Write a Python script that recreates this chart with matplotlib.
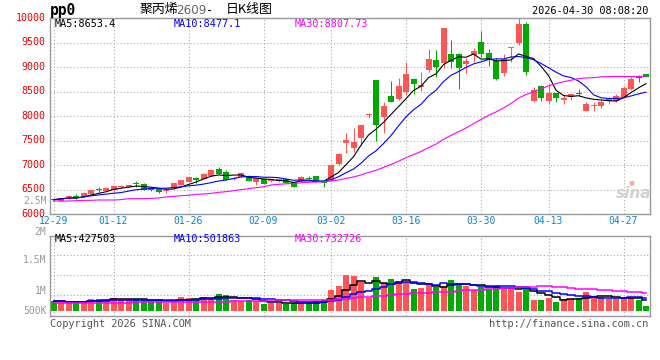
import matplotlib
matplotlib.use("Agg")
import matplotlib.pyplot as plt
from matplotlib.transforms import ScaledTranslation
from matplotlib.ticker import FixedLocator
import numpy as np
import pandas as pd

# ---------------- data ----------------
dates = ['12-29', '12-30', '12-31', '01-05', '01-06', '01-07', '01-08', '01-09',
         '01-12', '01-13', '01-14', '01-15', '01-16', '01-19', '01-20', '01-21',
         '01-22', '01-23', '01-26', '01-27', '01-28', '01-29', '01-30', '02-02',
         '02-03', '02-04', '02-05', '02-06', '02-09', '02-10', '02-11', '02-12',
         '02-13', '02-24', '02-25', '02-26', '02-27', '03-02', '03-03', '03-04',
         '03-05', '03-06', '03-09', '03-10', '03-11', '03-12', '03-13', '03-16',
         '03-17', '03-18', '03-19', '03-20', '03-23', '03-24', '03-25', '03-26',
         '03-27', '03-30', '03-31', '04-01', '04-02', '04-03', '04-07', '04-08',
         '04-09', '04-10', '04-13', '04-14', '04-15', '04-16', '04-17', '04-20',
         '04-21', '04-22', '04-23', '04-24', '04-27', '04-28', '04-29', '04-30']

opens = [6310, 6276, 6351, 6378, 6358, 6412, 6521, 6480, 6494, 6555,
         6555, 6630, 6610, 6535, 6514, 6480, 6535, 6603, 6657, 6732,
         6718, 6786, 6922, 6868, 6725, 6766, 6786, 6664, 6712, 6677,
         6670, 6725, 6657, 6684, 6739, 6779, 6664, 6690, 7025, 7460,
         7358, 7562, 8032, 8738, 7990, 8412, 8351, 8500, 8759, 8602,
         8950, 9147, 9085, 9266, 9266, 9059, 9249, 9508, 9295, 9120,
         8880, 9399, 9500, 9885, 8314, 8616, 8314, 8467, 8337, 8392,
         8470, 8110, 8215, 8212, 8314, 8320, 8392, 8555, 8800, 8854]
highs = [6330, 6340, 6385, 6405, 6450, 6500, 6555, 6555, 6575, 6590,
         6600, 6670, 6630, 6545, 6520, 6510, 6640, 6700, 6765, 6760,
         6850, 6920, 6970, 6900, 6765, 6855, 6810, 6740, 6720, 6715,
         6735, 6730, 6665, 6775, 6780, 6790, 6680, 7010, 7240, 7664,
         7752, 7820, 8060, 8738, 8296, 8720, 8773, 9105, 8790, 8896,
         9372, 9350, 9794, 9555, 9290, 9180, 9400, 9739, 9380, 9180,
         9263, 9419, 9998, 9920, 8602, 8640, 8650, 8480, 8440, 8460,
         8555, 8300, 8300, 8330, 8400, 8460, 8620, 8800, 8850, 8860]
lows = [6275, 6270, 6320, 6310, 6350, 6405, 6460, 6475, 6450, 6530,
        6550, 6562, 6490, 6480, 6440, 6440, 6530, 6600, 6650, 6640,
        6710, 6780, 6820, 6700, 6700, 6760, 6670, 6596, 6610, 6650,
        6665, 6630, 6555, 6680, 6710, 6660, 6562, 6680, 7010, 7250,
        7276, 7412, 7960, 7500, 7650, 8283, 8330, 8440, 8450, 8515,
        8900, 8810, 8977, 8977, 8560, 8885, 9100, 9200, 9020, 8740,
        8830, 9113, 9454, 8850, 8290, 8310, 8242, 8290, 8250, 8330,
        8420, 8100, 8110, 8160, 8240, 8300, 8380, 8540, 8705, 8800]
closes = [6296, 6331, 6364, 6331, 6439, 6494, 6494, 6535, 6569, 6562,
          6596, 6610, 6494, 6494, 6453, 6494, 6637, 6692, 6759, 6698,
          6813, 6909, 6827, 6704, 6739, 6834, 6677, 6732, 6616, 6691,
          6725, 6643, 6562, 6766, 6718, 6664, 6643, 7004, 7229, 7514,
          7480, 7820, 8045, 7820, 8212, 8290, 8616, 8855, 8664, 8637,
          9167, 9011, 9794, 9113, 8977, 9134, 9334, 9275, 9147, 8760,
          9160, 9413, 9880, 8900, 8535, 8378, 8467, 8372, 8365, 8445,
          8447, 8245, 8229, 8297, 8372, 8405, 8583, 8753, 8787, 8807]
volumes = [378000, 378000, 313000, 378000, 390000, 487000, 487000, 390000, 528000, 447000,
           447000, 487000, 447000, 378000, 378000, 313000, 447000, 568000, 528000, 447000,
           568000, 487000, 690000, 650000, 447000, 378000, 447000, 378000, 284000, 313000,
           313000, 284000, 313000, 313000, 313000, 378000, 447000, 853000, 1015000, 1462000,
           1421000, 1177000, 508000, 1360000, 1137000, 1299000, 1218000, 1157000, 893000, 934000,
           1117000, 954000, 995000, 1259000, 1137000, 1015000, 853000, 974000, 893000, 995000,
           873000, 873000, 771000, 1015000, 447000, 447000, 508000, 353000, 487000, 487000,
           528000, 751000, 589000, 548000, 487000, 487000, 568000, 508000, 450000, 190000]

# MA30 values for the first 29 sessions (earlier history not shown)
ma30_head = [6269, 6269, 6269, 6276, 6283, 6283, 6290, 6290, 6290, 6297,
             6317, 6317, 6317, 6324, 6331, 6351, 6365, 6378, 6385, 6405,
             6412, 6426, 6446, 6460, 6480, 6501, 6521, 6541, 6560]
vol_ma30_head = [325000, 325000, 325000, 325000, 325000, 325000, 325000, 325000, 325000, 325000,
                 330000, 335000, 340000, 340000, 340000, 340000, 345000, 345000, 350000, 350000,
                 355000, 360000, 365000, 370000, 375000, 380000, 385000, 390000, 400000]

price_ticks = [6000, 6500, 7000, 7500, 8000, 8500, 9000, 9500, 10000]
tick_dates = ['12-29', '01-12', '01-26', '02-09', '03-02', '03-16', '03-30', '04-13', '04-27']
vol_labels = ['2.5M', '2M', '1.5M', '1M', '500K']
legend_price = ['MA5:8653.4', 'MA10:8477.1', 'MA30:8807.73']
legend_vol = ['MA5:427503', 'MA10:501863', 'MA30:732726']

# ---------------- derived ----------------
n = len(dates)
x = np.arange(n)
o = np.array(opens, float); h = np.array(highs, float)
l = np.array(lows, float); c = np.array(closes, float)
v = np.array(volumes, float)
cs = pd.Series(c); vs = pd.Series(v)
ma5 = cs.rolling(5, min_periods=1).mean().values
ma10 = cs.rolling(10, min_periods=1).mean().values
ma30 = cs.rolling(30).mean().values
ma30[:len(ma30_head)] = ma30_head
vma5 = vs.rolling(5, min_periods=1).mean().values
vma10 = vs.rolling(10, min_periods=1).mean().values
vma30 = vs.rolling(30).mean().values
vma30[:len(vol_ma30_head)] = vol_ma30_head

RED = '#ff5555'
GREEN = '#00aa00'
up = c >= o
cols = np.where(up, RED, GREEN)

MONO = 'DejaVu Sans Mono'
CJK = ['Noto Sans CJK SC', 'DejaVu Sans']
W, H = 660, 360
fig = plt.figure(figsize=(W / 100, H / 100), dpi=100)
fig.patch.set_facecolor('white')


def rect(x0, y0, x1, y1):
    return [x0 / W, 1 - y1 / H, (x1 - x0) / W, (y1 - y0) / H]


def px(xp, yp):
    return xp / W, 1 - yp / H


ax = fig.add_axes(rect(50, 18.3, 650, 214.2))
axv = fig.add_axes(rect(50, 235.7, 650, 315.7))
xl = (-0.467, n - 0.467)

for a in (ax, axv):
    a.set_xlim(*xl)
    for s in a.spines.values():
        s.set_color('#999999')
        s.set_linewidth(1.0)
    a.tick_params(length=0)
    a.set_axisbelow(True)
    a.grid(True, color='#aaaaaa', linestyle=(0, (1, 2)), linewidth=0.8)
    a.set_xticks([dates.index(d) for d in tick_dates])

# ---- main candles ----
ax.set_ylim(6000, 10000)
ax.set_yticks(price_ticks)
ax.set_yticklabels([str(t) for t in price_ticks], color='#ee0000',
                   fontsize=7.2, family=MONO)
ax.tick_params(axis='y', pad=3)
for lab in ax.get_yticklabels():
    lab.set_transform(lab.get_transform() + ScaledTranslation(0, 1.5 / 100, fig.dpi_scale_trans))
ax.set_xticklabels(tick_dates, color='#0a84d0', fontsize=7.0, family=MONO)
ax.tick_params(axis='x', pad=1.2)

body_lo = np.minimum(o, c)
body_h = np.maximum(np.abs(c - o), 18)
ax.vlines(x, l, h, colors=cols, linewidth=0.75, zorder=2)
ax.bar(x, body_h, bottom=body_lo, width=0.8, color=cols, linewidth=0, zorder=3)

ax.plot(x, ma5, color='black', lw=0.8, zorder=4)
ax.plot(x, ma10, color='#0000ff', lw=0.8, zorder=4)
ax.plot(x, ma30, color='#ff00ff', lw=0.8, zorder=4)

for txt, col, xp in zip(legend_price, ['black', '#0000ff', '#ff00ff'], [55, 174, 295]):
    fig.text(*px(xp, 24), txt, color=col, fontsize=7.3, family=MONO, va='center', ha='left')

# ---- volume ----
axv.set_ylim(-203000, 3045000)
axv.yaxis.set_major_locator(FixedLocator(
    [(311 - yp) * 40600 for yp in (295.7, 275.7, 255.7)]))
axv.set_yticklabels([])
axv.set_xticklabels([])
axv.bar(x, v, width=0.8, color=cols, linewidth=0, zorder=2)
axv.plot(x, vma5, color='black', lw=1.1, drawstyle='steps-mid', zorder=4)
axv.plot(x, vma10, color='#0000ff', lw=1.1, drawstyle='steps-mid', zorder=4)
axv.plot(x, vma30, color='#ff00ff', lw=1.1, drawstyle='steps-mid', zorder=4)

for txt, col, xp in zip(legend_vol, ['black', '#0000ff', '#ff00ff'], [55, 174, 295]):
    fig.text(*px(xp, 239), txt, color=col, fontsize=7.3, family=MONO, va='center', ha='left')

# volume axis labels, placed where the source chart draws them
for txt, yp in zip(vol_labels, [201, 231.5, 260, 290.7, 310.7]):
    fig.text(*px(46.5, yp), txt, color='#999999', fontsize=7.0, family=MONO,
             va='center', ha='right')

# ---- header ----
fig.text(*px(50, 11), 'pp0', fontsize=10.5, family=MONO, fontweight='bold',
         va='center', ha='left')
fig.text(*px(140, 10), '聚丙烯', fontsize=9.3, family=CJK, va='center', ha='left')
fig.text(*px(176, 10.5), '2609', fontsize=8.6, family='DejaVu Sans', color='#666666',
         va='center', ha='left')
fig.text(*px(206, 10.5), '-', fontsize=8.6, family=MONO, va='center', ha='left')
fig.text(*px(226, 10), '日K线图', fontsize=9.3, family=CJK, va='center', ha='left')
fig.text(*px(648, 11.5), '2026-04-30 08:08:20', fontsize=7.4, family=MONO,
         va='center', ha='right')

# ---- watermark ----
fig.text(*px(634, 194), 'sina', fontsize=11, family='DejaVu Sans', fontstyle='italic',
         fontweight='bold', color='#cccccc', va='center', ha='center', alpha=0.9)
fig.text(*px(632, 183), '●', fontsize=5, color='#f0b0b0', va='center', ha='center')

# ---- footer ----
fig.text(*px(50, 324), 'Copyright 2026 SINA.COM', fontsize=7.4, family=MONO,
         color='#555555', va='center', ha='left')
fig.text(*px(648, 324), 'http://finance.sina.com.cn', fontsize=7.4, family=MONO,
         color='#555555', va='center', ha='right')

fig.savefig('out.png', dpi=100)
